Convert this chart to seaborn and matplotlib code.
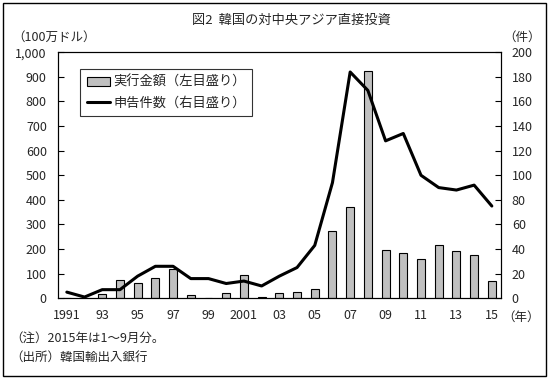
import numpy as np
import pandas as pd
import matplotlib
matplotlib.use("Agg")
import matplotlib.pyplot as plt
import seaborn as sns
from matplotlib.patches import Rectangle, Patch
from matplotlib.lines import Line2D

# data
years = list(range(1991, 2016))
amount = [3, 1, 17, 74, 61, 82, 118, 14, 3, 20, 94, 4, 20, 25, 38,
          273, 371, 922, 196, 184, 160, 216, 192, 175, 71]   # 100万ドル (left)
cases = [5, 1, 7, 7, 18, 26, 26, 16, 16, 12, 14, 10, 18, 25, 43,
         94, 184, 169, 128, 134, 100, 90, 88, 92, 75]         # 件 (right)
year_labels = ["1991", "", "93", "", "95", "", "97", "", "99", "", "2001", "", "03", "",
               "05", "", "07", "", "09", "", "11", "", "13", "", "15"]

df = pd.DataFrame({"year": [str(y) for y in years], "amount": amount, "cases": cases})
df["pos"] = np.arange(len(df))

sns.set_theme(style="white")
plt.rcParams['font.family'] = ['Noto Sans CJK JP', 'DejaVu Sans']
plt.rcParams['font.size'] = 9

fig = plt.figure(figsize=(5.49, 3.79), dpi=100)
ax = fig.add_axes([0.1056, 0.213, 0.912 - 0.1056, 0.862 - 0.213])

sns.barplot(data=df, x="year", y="amount", color="#c0c0c0", edgecolor="black",
            linewidth=0.8, width=0.45, saturation=1, ax=ax)
ax.set_ylim(0, 1000)
ax.set_xlim(-0.5, len(df) - 0.5)
ax.set_yticks(range(0, 1001, 100))
ax.set_yticklabels([f"{v:,}" for v in range(0, 1001, 100)], fontsize=9)
ax.set_xlabel("")
ax.set_ylabel("")

# boundary ticks, labels at bar centres
ax.set_xticks(np.arange(len(df)) - 0.5)
ax.set_xticklabels([""] * len(df))
ax.set_xticks(np.arange(len(df)), minor=True)
ax.set_xticklabels(year_labels, minor=True, fontsize=9)
ax.tick_params(axis="x", which="major", direction="in", length=3, color="black", width=0.8)
ax.tick_params(axis="x", which="minor", length=0, pad=8)
ax.tick_params(axis="y", direction="in", length=4, color="black", width=0.8, pad=8, left=True)

ax2 = ax.twinx()
sns.lineplot(data=df, x="pos", y="cases", color="black", linewidth=2.2, ax=ax2)
ax2.set_ylim(0, 200)
ax2.set_yticks(range(0, 201, 20))
ax2.set_yticklabels([str(v) for v in range(0, 201, 20)], fontsize=9)
ax2.tick_params(axis="y", direction="in", length=4, color="black", width=0.8, pad=8, right=True)
ax2.set_xlabel("")
ax2.set_ylabel("")
ax2.set_xlim(-0.5, len(df) - 0.5)

for a in (ax, ax2):
    for s in a.spines.values():
        s.set_color("black")
        s.set_linewidth(0.8)

handles = [Patch(facecolor="#c0c0c0", edgecolor="black", linewidth=0.8),
           Line2D([], [], color="black", linewidth=2.2)]
leg = ax2.legend(handles, ["実行金額（左目盛り）", "申告件数（右目盛り）"],
                 loc="upper left", bbox_to_anchor=(0.05, 0.932), borderaxespad=0,
                 frameon=True, fancybox=False, edgecolor="black", fontsize=9.5,
                 handlelength=1.8, handletextpad=0.2, borderpad=0.5, labelspacing=0.6)
leg.get_frame().set_linewidth(0.8)

fig.text(0.53, 0.945, "図2  韓国の対中央アジア直接投資", ha="center", va="center", fontsize=9.5)
fig.text(0.022, 0.902, "（100万ドル）", ha="left", va="center", fontsize=9)
fig.text(0.985, 0.902, "（件）", ha="right", va="center", fontsize=9)
fig.text(0.914, 0.163, "（年）", ha="left", va="center", fontsize=9)
fig.text(0.018, 0.108, "（注）2015年は1～9月分。", ha="left", va="center", fontsize=9)
fig.text(0.018, 0.057, "（出所）韓国輸出入銀行", ha="left", va="center", fontsize=9)

fig.patches.append(Rectangle((0.006, 0.008), 0.988, 0.984, transform=fig.transFigure,
                             fill=False, edgecolor="black", linewidth=1))

fig.savefig("out.png", dpi=100)
